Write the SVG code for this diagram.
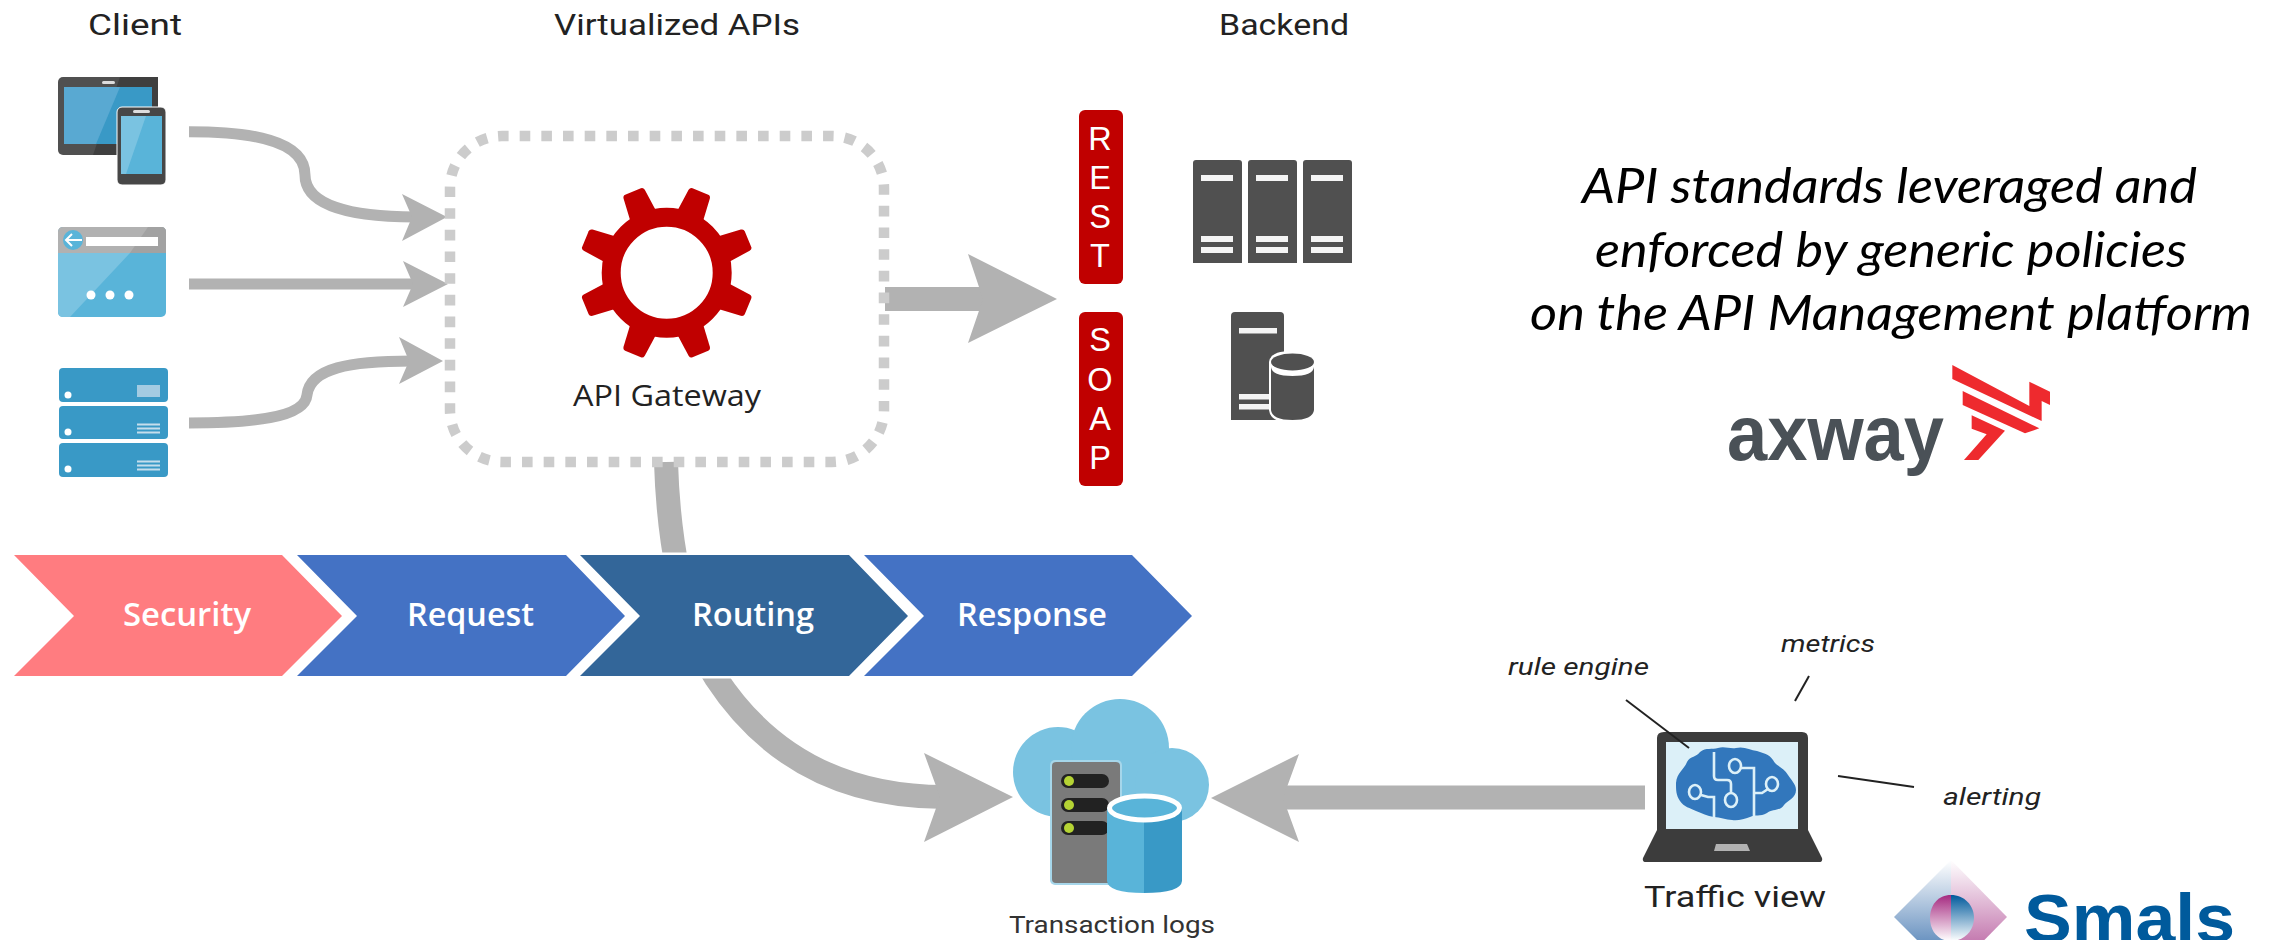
<svg xmlns="http://www.w3.org/2000/svg" width="2283" height="940" viewBox="0 0 2283 940">
<style>
text{font-family:"Open Sans","Noto Sans",sans-serif}
.lab{fill:#222;font-size:29px;font-family:"Roboto","Open Sans",sans-serif}
.it{fill:#222;font-size:24px;font-style:italic;font-family:"Roboto","Open Sans",sans-serif}
.big{fill:#000;font-size:48px;font-style:italic;font-family:"Lato","Open Sans",sans-serif;text-anchor:middle}
.flow{fill:none;stroke:#b2b2b2}
.head{fill:#b2b2b2}
.chev{stroke:#fff;stroke-width:5;paint-order:stroke}
.chevt{fill:#fff;font-size:32px;font-weight:600}
.api{fill:#fff;font-family:"Liberation Sans",Arial,sans-serif;font-size:32.5px;text-anchor:middle}
.dk{fill:#505050}
.w{fill:#f4f4f4}
.tr{fill:none;stroke:#dcf0f8;stroke-width:2.6}
.ann{stroke:#222;stroke-width:2;fill:none}
</style>
<defs>
<linearGradient id="hl" x1="0" y1="0" x2="0" y2="1"><stop offset="0" stop-color="#fff"/><stop offset="1" stop-color="#2f68a8"/></linearGradient>
<linearGradient id="hr" x1="0" y1="0" x2="0" y2="1"><stop offset="0" stop-color="#fff"/><stop offset="1" stop-color="#ad4590"/></linearGradient>
<linearGradient id="el" x1="0" y1="0" x2="0" y2="1"><stop offset="0" stop-color="#a52a80"/><stop offset="1" stop-color="#fff"/></linearGradient>
<linearGradient id="er" x1="0" y1="0" x2="0" y2="1"><stop offset="0" stop-color="#005a9c"/><stop offset="1" stop-color="#fff"/></linearGradient>
<path id="tooth" d="M-14 -60L-11.5 -85Q-11 -88 -8.5 -88H8.5Q11 -88 11.5 -85L14 -60Z" fill="#c00000"/>
</defs>

<g id="connectors">
<path class="flow" stroke-width="11" d="M189 131.7C250 131.7 305 140 305 175C305 205 350 217 415 217"/>
<polygon class="head" points="447,217 402,194 412,217 402,241"/>
<path class="flow" stroke-width="11" d="M189 284H415"/>
<polygon class="head" points="448,284 403,261 413,284 403,307"/>
<path class="flow" stroke-width="11" d="M189 423C250 423 305 418 307 395C310 368 350 361 412 361"/>
<polygon class="head" points="443,361 399,337 409,361 399,384"/>
<path class="flow" stroke-width="24" d="M885 299H985"/>
<polygon class="head" points="1057,299 968,254 983,299 968,343"/>
<path class="flow" stroke-width="24" d="M666 462C668 530 680 620 716 678C760 745 830 797 945 797"/>
<polygon class="head" points="1013,797 924,753 940,797 924,842"/>
<path class="flow" stroke-width="24" d="M1645 797.500H1280"/>
<polygon class="head" points="1211,798 1299,754 1283,798 1299,842"/>
</g>

<g id="col-labels">
<text class="lab" x="88" y="35" textLength="94" lengthAdjust="spacingAndGlyphs">Client</text>
<text class="lab" x="554" y="35" textLength="246" lengthAdjust="spacingAndGlyphs">Virtualized APIs</text>
<text class="lab" x="1219" y="35" textLength="130" lengthAdjust="spacingAndGlyphs">Backend</text>
</g>

<g id="client-devices">
<rect x="58" y="77" width="100" height="78" rx="5" fill="#505050"/>
<path d="M120 77H158V155H93Z" fill="#3f3f3f"/>
<rect x="102" y="81" width="13" height="3" rx="1.500" fill="#ddd"/>
<rect x="64" y="87" width="88" height="57" fill="#3999c6"/>
<path d="M64 87H120L96 144H64Z" fill="#59a9d2"/>
<rect x="117" y="107" width="49" height="78" rx="5" fill="#474747" stroke="#fff" stroke-width="1"/>
<rect x="133" y="110" width="17" height="3" rx="1.500" fill="#ddd"/>
<rect x="121" y="116" width="41" height="58" fill="#59b4d9"/>
<path d="M121 116H146L126 174H121Z" fill="#7ac3e1"/>
</g>
<g id="client-browser">
<rect x="58" y="227" width="108" height="90" rx="5" fill="#59b4d9"/>
<path d="M58 253H130L70 317H63Q58 317 58 312Z" fill="#7ac3e1"/>
<path d="M63 227H161Q166 227 166 232V253H58V232Q58 227 63 227Z" fill="#b1b1b1"/>
<path d="M148 227H161Q166 227 166 232V253H130Z" fill="#a2a2a2"/>
<circle cx="73" cy="240" r="10" fill="#59b4d9"/>
<path d="M82 240H67M72 234L66 240L72 246" fill="none" stroke="#fff" stroke-width="2"/>
<rect x="86" y="237" width="72" height="9" fill="#fff"/>
<circle cx="91" cy="295" r="4.500" fill="#fff"/><circle cx="110" cy="295" r="4.500" fill="#fff"/><circle cx="129" cy="295" r="4.500" fill="#fff"/>
</g>
<g id="client-server">
<rect x="59" y="368" width="109" height="34" rx="4" fill="#3999c6"/>
<rect x="59" y="406" width="109" height="33" rx="4" fill="#3999c6"/>
<rect x="59" y="443" width="109" height="34" rx="4" fill="#3999c6"/>
<circle cx="68" cy="395" r="3.500" fill="#fff"/><circle cx="68" cy="432" r="3.500" fill="#fff"/><circle cx="68" cy="469" r="3.500" fill="#fff"/>
<rect x="137" y="385" width="23" height="12" fill="#a3cbe2"/>
<path d="M137 424.500H160M137 428.500H160M137 432.500H160M137 461.500H160M137 465.500H160M137 469.500H160" stroke="#c5deec" stroke-width="2"/>
</g>

<g id="api-gateway">
<rect x="450" y="136" width="434" height="326" rx="52" fill="none" stroke="#ccc" stroke-width="10.500" stroke-dasharray="10.600 11.070" stroke-dashoffset="4"/>
<g transform="translate(666.700 272.700)">
<use href="#tooth" transform="rotate(22.500)"/><use href="#tooth" transform="rotate(67.500)"/><use href="#tooth" transform="rotate(112.500)"/><use href="#tooth" transform="rotate(157.500)"/><use href="#tooth" transform="rotate(202.500)"/><use href="#tooth" transform="rotate(247.500)"/><use href="#tooth" transform="rotate(292.500)"/><use href="#tooth" transform="rotate(337.500)"/>
<circle r="55.500" fill="none" stroke="#c00000" stroke-width="19"/>
</g>
<text x="573" y="406" fill="#222" font-size="30" textLength="188" lengthAdjust="spacingAndGlyphs">API Gateway</text>
</g>

<g id="rest">
<rect x="1079" y="110" width="44" height="174" rx="6" fill="#c00000"/>
<text class="api" x="1100" y="150">R</text><text class="api" x="1100" y="189">E</text><text class="api" x="1100" y="228">S</text><text class="api" x="1100" y="267">T</text>
</g>
<g id="soap">
<rect x="1079" y="312" width="44" height="174" rx="6" fill="#c00000"/>
<text class="api" x="1100" y="351">S</text><text class="api" x="1100" y="391">O</text><text class="api" x="1100" y="430">A</text><text class="api" x="1100" y="469">P</text>
</g>

<g id="backend-servers">
<path class="dk" d="M1193 163Q1193 160 1196 160H1239Q1242 160 1242 163V263H1193Z"/>
<path class="dk" d="M1248 163Q1248 160 1251 160H1294Q1297 160 1297 163V263H1248Z"/>
<path class="dk" d="M1303 163Q1303 160 1306 160H1349Q1352 160 1352 163V263H1303Z"/>
<path class="w" d="M1201 175h32v6h-32zM1201 236h32v6h-32zM1201 247h32v6h-32zM1256 175h32v6h-32zM1256 236h32v6h-32zM1256 247h32v6h-32zM1311 175h32v6h-32zM1311 236h32v6h-32zM1311 247h32v6h-32z"/>
</g>
<g id="backend-db">
<path class="dk" d="M1231 316Q1231 312 1235 312H1280Q1284 312 1284 316V420H1231Z"/>
<path class="w" d="M1239 328h38v5.500h-38zM1239 394h30v5.500h-30zM1239 404h30v5.500h-30z"/>
<path d="M1269 362V410Q1270 422 1292 423Q1314 422 1316 410V362Q1314 351 1292 351Q1270 351 1269 362Z" fill="#fff"/>
<path class="dk" d="M1271 367V410Q1272 420 1292.500 420Q1313 420 1314 410V367Q1313 376 1292.500 376Q1272 376 1271 367Z"/>
<ellipse class="dk" cx="1292.500" cy="362" rx="21.500" ry="8.500"/>
</g>

<g id="statement">
<text class="big" x="1889.500" y="203" textLength="615" lengthAdjust="spacingAndGlyphs">API standards leveraged and</text>
<text class="big" x="1891" y="267" textLength="592" lengthAdjust="spacingAndGlyphs">enforced by generic policies</text>
<text class="big" x="1891" y="330" textLength="722" lengthAdjust="spacingAndGlyphs">on the API Management platform</text>
</g>

<g id="axway-logo">
<text x="1727" y="460" fill="#4a5157" font-size="77" font-weight="700" style="font-family:'Liberation Sans',Arial,sans-serif" textLength="217" lengthAdjust="spacingAndGlyphs">axway</text>
<g transform="translate(1700 340) scale(.33333)" fill="#ee2a2e">
<polygon points="757,75 988,198 988,125 1050,155 1050,195 1025,183 1025,243 757,117"/>
<polygon points="788,153 1018,265 975,280 788,195"/>
<polygon points="815,226 915,272 835,360 792,360 860,283 815,266"/>
</g>
</g>

<g id="chevron-security">
<polygon class="chev" fill="#ff7c80" points="14,555 282,555 342,616 282,676 14,676 74,616"/>
<text class="chevt" x="123" y="626" textLength="128" lengthAdjust="spacingAndGlyphs">Security</text>
</g>
<g id="chevron-request">
<polygon class="chev" fill="#4472c4" points="297,555 566,555 625,616 566,676 297,676 357,616"/>
<text class="chevt" x="407" y="626" textLength="127" lengthAdjust="spacingAndGlyphs">Request</text>
</g>
<g id="chevron-routing">
<polygon class="chev" fill="#336699" points="580,555 849,555 908,616 849,676 580,676 640,616"/>
<text class="chevt" x="692" y="626" textLength="122" lengthAdjust="spacingAndGlyphs">Routing</text>
</g>
<g id="chevron-response">
<polygon class="chev" fill="#4472c4" points="864,555 1132,555 1192,616 1132,676 864,676 924,616"/>
<text class="chevt" x="957" y="626" textLength="150" lengthAdjust="spacingAndGlyphs">Response</text>
</g>

<g id="transaction-logs">
<g fill="#7ac3e1">
<circle cx="1058" cy="772" r="45"/><circle cx="1120" cy="748" r="49"/><circle cx="1172" cy="785" r="37"/>
<path d="M1030 800H1180V822H1060Z"/>
</g>
<rect x="1050" y="760" width="72" height="125" rx="5" fill="#a6d6ea"/>
<rect x="1052" y="762" width="68" height="121" rx="4" fill="#7a7a7a"/>
<rect x="1061" y="774" width="48" height="14" rx="7" fill="#222"/>
<rect x="1061" y="798" width="48" height="14" rx="7" fill="#222"/>
<rect x="1061" y="821" width="48" height="14" rx="7" fill="#222"/>
<circle cx="1069" cy="781" r="5" fill="#b5d334"/><circle cx="1069" cy="805" r="5" fill="#b5d334"/><circle cx="1069" cy="828" r="5" fill="#b5d334"/>
<path d="M1107 808V881Q1108 893 1144 893V808Z" fill="#59b4d9"/>
<path d="M1182 808V881Q1181 893 1144 893V808Z" fill="#3999c6"/>
<ellipse cx="1144.500" cy="808" rx="35" ry="12" fill="#59b4d9" stroke="#fff" stroke-width="5"/>
<text x="1009" y="933" fill="#333" font-size="24" style="font-family:Roboto,'Open Sans',sans-serif" textLength="206" lengthAdjust="spacingAndGlyphs">Transaction logs</text>
</g>

<g id="traffic-view">
<path d="M1664 732H1802Q1808 732 1808 738V830L1822 858Q1823 862 1819 862H1646Q1642 862 1643 858L1657 830V738Q1657 732 1664 732Z" fill="#3c3c3c"/>
<rect x="1666" y="742" width="132" height="87" fill="#dcf0f8"/>
<path d="M1716 844H1747L1750 851H1714Z" fill="#b2b2b2"/>
<path fill="#3277bc" d="M1676 783C1677 772 1684 770 1687 762C1690 756 1697 757 1700 752C1706 747 1712 750 1718 748C1724 746 1730 749 1736 748C1744 746 1750 750 1757 751C1763 753 1769 754 1773 760C1776 766 1784 768 1788 775C1791 780 1796 784 1796 790C1796 798 1788 800 1784 805C1781 811 1772 809 1767 813C1760 817 1755 814 1750 817C1744 819 1738 821 1732 820C1726 820 1720 817 1714 817C1707 816 1702 813 1696 811C1690 808 1684 807 1680 801C1676 795 1676 790 1676 783Z"/>
<path class="tr" d="M1714 752V776Q1714 780 1718 780H1727Q1731 780 1731 784V793"/>
<ellipse class="tr" cx="1731" cy="800" rx="6" ry="7"/>
<path class="tr" d="M1701 795L1708 797H1714V818"/>
<ellipse class="tr" cx="1695" cy="792" rx="6" ry="7"/>
<ellipse class="tr" cx="1735" cy="766" rx="6" ry="7"/>
<path class="tr" d="M1741 768H1754V818M1754 793H1762L1768 789"/>
<ellipse class="tr" cx="1772" cy="784" rx="6" ry="7"/>
<path class="ann" d="M1626 700L1689 748"/>
<path class="ann" d="M1809 676L1795 701"/>
<path class="ann" d="M1838 776L1914 787"/>
<text class="it" x="1781" y="652" textLength="94" lengthAdjust="spacingAndGlyphs">metrics</text>
<text class="it" x="1508" y="675" textLength="141" lengthAdjust="spacingAndGlyphs">rule engine</text>
<text class="it" x="1943" y="805" textLength="98" lengthAdjust="spacingAndGlyphs">alerting</text>
<text class="lab" x="1644" y="907" textLength="182" lengthAdjust="spacingAndGlyphs">Traffic view</text>
</g>

<g id="smals-logo">
<polygon fill="url(#hl)" points="1951,860 1894,917 1951,974"/>
<polygon fill="url(#hr)" points="1951,860 2007,917 1951,974"/>
<path fill="url(#el)" d="M1951 895C1938 895 1930 905 1930 918C1930 931 1938 941 1951 941Z"/>
<path fill="url(#er)" d="M1951 895C1964 895 1974 905 1974 918C1974 931 1964 941 1951 941Z"/>
<text x="2024" y="942" fill="#005a9c" font-size="68" font-weight="700" style="font-family:'Liberation Sans',Arial,sans-serif" textLength="211" lengthAdjust="spacingAndGlyphs">Smals</text>
</g>
</svg>
